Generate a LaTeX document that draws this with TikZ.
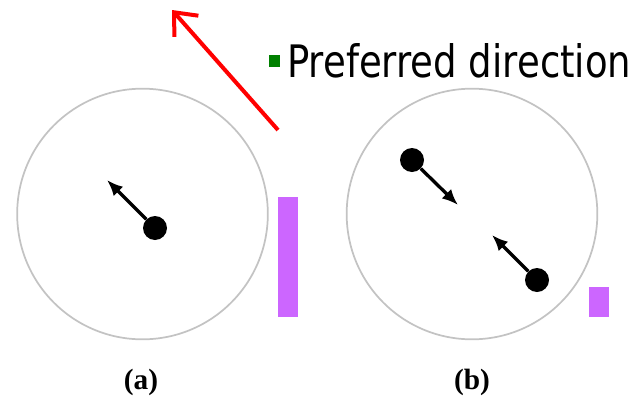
\documentclass[tikz,border=0pt]{standalone}
\usepackage{fontspec}
\setmainfont{Liberation Serif}
\newfontfamily\tahomalike{DejaVu Sans}
\usetikzlibrary{arrows.meta}
\definecolor{ringgray}{RGB}{195,195,195}
\definecolor{barviolet}{RGB}{204,102,255}
\definecolor{bulletgreen}{RGB}{0,128,0}
\tikzset{
  ring/.style={circle, draw=ringgray, line width=1.3pt, minimum size=188pt, inner sep=0pt},
  ball/.style={circle, fill=black, minimum size=18pt, inner sep=0pt},
  spin/.style={line width=2.5pt, -{Latex[length=12pt,width=10pt]}},
  bar/.style={fill=barviolet, draw=none},
  pref/.style={red, line width=3pt, -{Straight Barb[length=14pt,width=24pt,line width=3pt]}},
  caption/.style={font=\bfseries\fontsize{22pt}{25pt}\selectfont, inner sep=0pt}
}
\begin{document}
\begin{tikzpicture}[x=0.75pt,y=-0.75pt]
\useasboundingbox (0,0) rectangle (639,400);
% preferred direction
\coordinate (pt) at (172,10);
\coordinate (pb) at (278,130);
\draw[pref] (pb) -- (pt);
\fill[bulletgreen] (269,55) rectangle (280,67);
\node[anchor=base west, inner sep=0pt] (lbl) at (287,77)
  {\resizebox{258pt}{25.5pt}{\tahomalike Preferred direction}};
% panel (a)
\node[ring] (ra) at (142.5,214) {};
\node[ball] (da) at (155,228) {};
\coordinate (ta) at (107,180);
\draw[spin] (da) -- (ta);
\fill[bar] (278,197) rectangle (298,317);
\node[caption] (ca) at (141,382) {(a)};
% panel (b)
\node[ring] (rb) at (472,214) {};
\node[ball] (db1) at (412,160) {};
\coordinate (tb1) at (458,205);
\draw[spin] (db1) -- (tb1);
\node[ball] (db2) at (537,280) {};
\coordinate (tb2) at (492,235);
\draw[spin] (db2) -- (tb2);
\fill[bar] (589,287) rectangle (609,317);
\node[caption] (cb) at (472,382) {(b)};
\end{tikzpicture}
\end{document}
